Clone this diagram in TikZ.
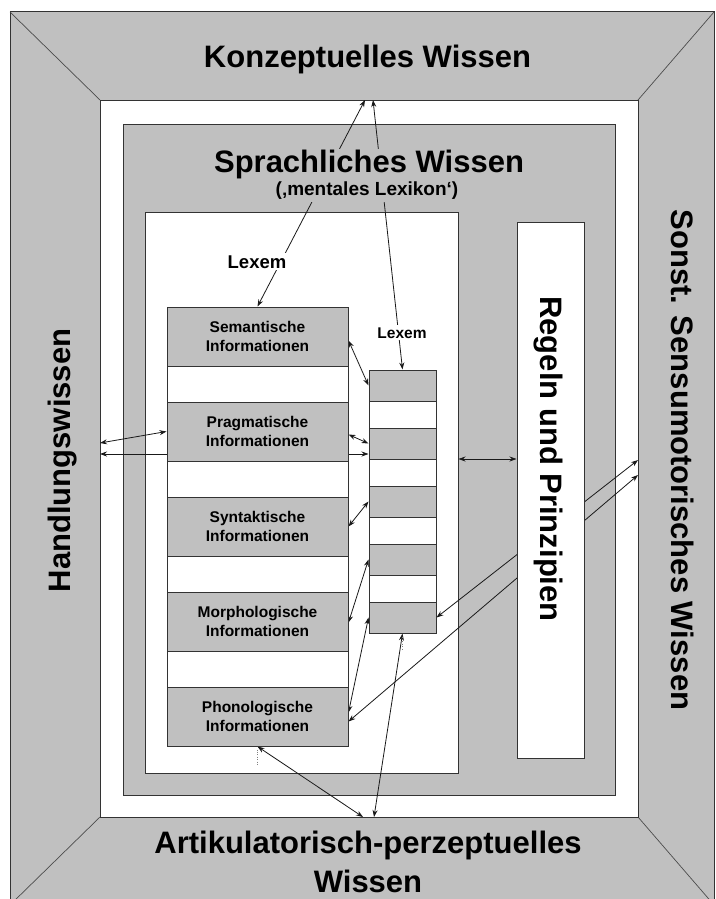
\documentclass[tikz,border=0pt]{standalone}
\usepackage{fontspec}
\setmainfont{Liberation Sans}
\usepackage{tikz}
\usetikzlibrary{calc, positioning, arrows.meta}
\definecolor{silver}{HTML}{C0C0C0}
\pgfdeclarelayer{frame}
\pgfdeclarelayer{lines}
\pgfsetlayers{frame,lines,main}

\begin{document}
\begin{tikzpicture}[x=1pt, y=-1pt,
		edge/.style = {draw=black!80, line width=1pt},
		info/.style = {edge, fill=silver, minimum width=181pt, minimum height=59pt, inner sep=0pt, align=center, font=\bfseries\fontsize{15.5}{19}\selectfont},
		cell/.style = {edge, fill=silver, minimum width=67pt, minimum height=31pt, inner sep=0pt},
		big/.style = {font=\bfseries\fontsize{31}{39}\selectfont, inner sep=1pt},
		link/.style = {<->, >={Stealth[length=7pt, width=5pt]}, draw=black!90, line width=0.8pt}]
		\useasboundingbox (0,0) rectangle (715,899);
		\clip (0,0) rectangle (715,899);
		
		\begin{pgfonlayer}{frame}
			\coordinate (outer nw) at (10,12);
			\coordinate (outer ne) at (714,12);
			\coordinate (outer sw) at (10,905);
			\coordinate (outer se) at (714,905);
			\coordinate (inner nw) at (100,100);
			\coordinate (inner ne) at (638,100);
			\coordinate (inner sw) at (100,817);
			\coordinate (inner se) at (638,817);
			
			\draw[edge, fill=silver] (outer nw) rectangle (outer se);
			\draw[black!70, line width=0.7pt] (outer nw) -- (inner nw) (outer ne) -- (inner ne) (outer sw) -- (inner sw) (outer se) -- (inner se);
			\draw[edge, fill=white] (inner nw) rectangle (inner se);
			\draw[edge, fill=silver] (123,124) rectangle (615,795);
			\node[edge, fill=white, minimum width=313pt, minimum height=561pt] (lexikon) at (301.5,492.5) {};
		\end{pgfonlayer}
		
		\node[edge, fill=white, minimum width=181pt, minimum height=435pt] (lexcol) at (257.5,524.5) {};
		\node[info, anchor=north] (sem) at (lexcol.north) {Semantische\\Informationen};
		\node[info, below=35pt of sem] (prag) {Pragmatische\\Informationen};
		\node[info, below=35pt of prag] (syn) {Syntaktische\\Informationen};
		\node[info, below=35pt of syn] (morph) {Morphologische\\Informationen};
		\node[info, below=35pt of morph] (phon) {Phonologische\\Informationen};
		
		\node[edge, fill=white, minimum width=67pt, minimum height=263pt] (lexrow) at (402.5,501.5) {};
		\foreach \i in {1,...,5}
			\node[cell] (cell \i) at (402.5, {385.5+(\i-1)*58}) {};
		
		\node[edge, fill=white, minimum width=67pt, minimum height=536pt] (regeln) at (550.5,490) {};
		\node[big, rotate=-90, anchor=base] (regeln text) at (540,459) {Regeln und Prinzipien};
		
		\begin{pgfonlayer}{lines}
			\coordinate (konz a) at (365,100);
			\coordinate (konz b) at (373,100);
			\coordinate (hw a) at (100,443);
			\coordinate (hw b) at (100,454);
			\coordinate (sm a) at (638,460);
			\coordinate (sm b) at (638,475);
			\coordinate (art a) at (363,817);
			\coordinate (art b) at (374,817);
			\coordinate (rp) at (517,459);
			
			\draw[link] (konz a) -- (sem.north);
			\draw[link] (konz b) -- (cell 1.north);
			\draw[link] (hw a) -- (prag.west);
			\draw[link] (hw b) -- (hw b -| cell 2.west);
			
			\foreach \a/\b in {sem/prag, prag/syn, syn/morph, morph/phon}
				\draw[link] (\a.south) -- (\b.north);
			\foreach \i/\j in {1/2, 2/3, 3/4, 4/5}
				\draw[link] (cell \i.south) -- (cell \j.north);
			
			\draw[link] ([yshift=-4pt]sem.east) -- (cell 1.west);
			\draw[link] ([yshift=-3pt]prag.east) -- (cell 2.west);
			\draw[link] (syn.east) -- (cell 3.west);
			\draw[link] ([yshift=-1pt]morph.east) -- (cell 4.west);
			\draw[link] ([yshift=4pt]phon.east) -- (cell 5.west);
			
			\draw[link] (sm a) -- (cell 5.east);
			\draw[link] (sm b) -- ([yshift=-5pt]phon.east);
			\draw[link] (rp -| lexikon.east) -- (rp -| regeln.west);
			
			\draw[link] (phon.south) -- (art a);
			\draw[link] (cell 5.south) -- (art b);
			\draw[gray, dotted] ([yshift=-3pt]phon.south) -- ++(0,16);
			\draw[gray, dotted] ([yshift=-3pt]cell 5.south) -- ++(0,13);
		\end{pgfonlayer}
		
		\node[big, anchor=base] (konz) at (367.5,67) {Konzeptuelles Wissen};
		\node[big, anchor=base, fill=silver] (sprach) at (369,172) {Sprachliches Wissen};
		\node[anchor=base, fill=silver, inner sep=3pt, font=\bfseries\fontsize{19}{23}\selectfont] (mental) at (367,195) {(‚mentales Lexikon‘)};
		\node[big, rotate=90, anchor=base] (handlung) at (70,460.5) {Handlungswissen};
		\node[big, rotate=-90, anchor=base] (sonst) at (671,460) {Sonst. Sensumotorisches Wissen};
		\node[big, align=center, anchor=base] (artik) at (368,892) {Artikulatorisch-perzeptuelles\\Wissen};
		
		\node[anchor=base, fill=white, inner sep=2pt, font=\bfseries\fontsize{18.5}{22}\selectfont] (lexem a) at (257,268) {Lexem};
		\node[anchor=base, fill=white, inner sep=2pt, font=\bfseries\fontsize{15.5}{19}\selectfont] (lexem b) at (402,338) {Lexem};
	\end{tikzpicture}
\end{document}
